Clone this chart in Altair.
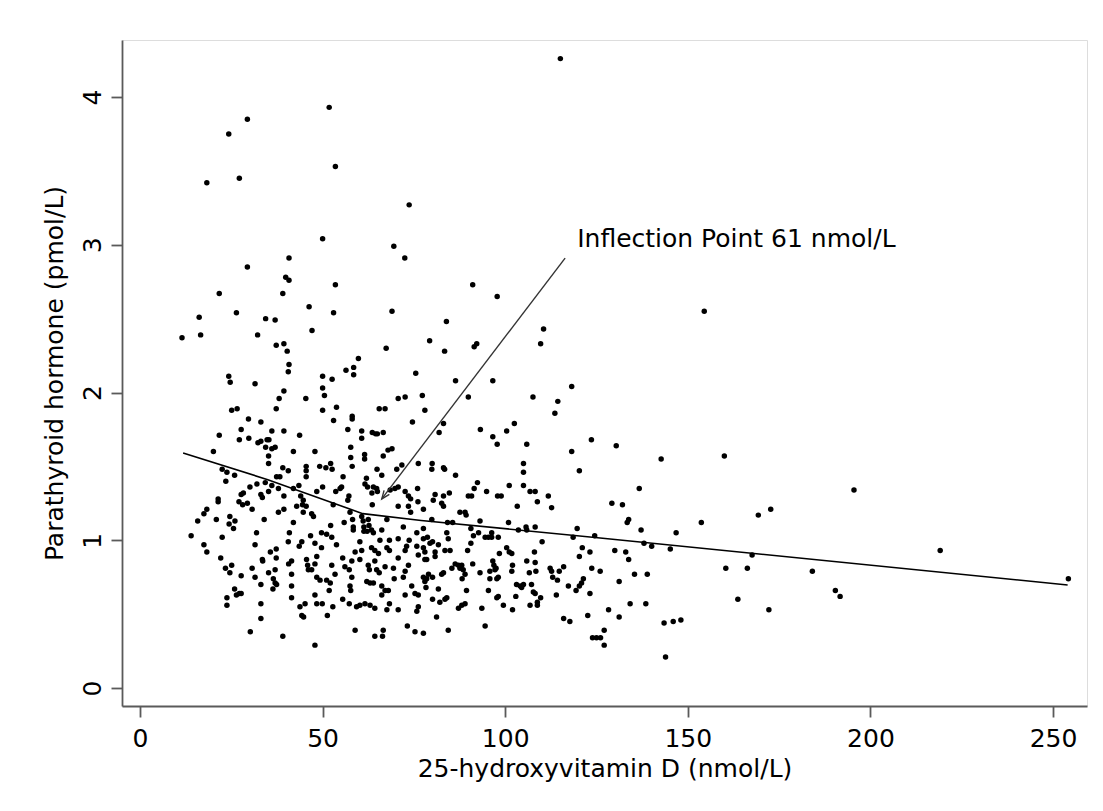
import altair as alt
import pandas as pd

# 25-hydroxyvitamin D (nmol/L) and parathyroid hormone (pmol/L)
vit_d = [
    51.8, 29.4, 24.3, 53.5, 18.3, 27.2, 50.0, 40.8, 29.4, 39.9, 40.8, 53.5, 21.7, 39.1,
    115.1, 73.7, 69.5, 72.5, 91.1, 97.8, 154.5,
    16.2, 26.4, 34.4, 37.0, 11.5, 16.6, 32.2, 37.3, 39.4, 40.3, 40.8, 40.6, 24.3, 24.7,
    31.5, 39.4, 38.1, 37.3, 25.1, 26.6, 29.7, 33.1, 27.7, 36.1, 39.4, 21.7, 27.2, 29.8,
    32.3, 33.1, 34.8, 35.3, 34.4, 36.1, 37.0, 20.1, 35.2, 35.2, 22.5, 23.8, 25.9, 39.1,
    40.6, 37.4, 38.3,
    46.3, 53.0, 69.0, 47.1, 67.4, 59.8, 56.4, 58.5, 58.5, 50.0, 52.6, 75.5, 50.0, 50.5,
    45.4, 70.7, 72.6, 50.0, 53.8, 65.5, 67.1, 53.0, 58.1, 58.1, 74.6, 56.9, 60.7, 60.7,
    63.6, 64.5, 65.0, 66.6, 43.7, 42.0, 47.9, 57.7, 57.7, 61.5, 61.5, 66.6, 67.9, 69.0,
    58.1, 45.5, 45.5, 45.5, 49.2, 50.9, 52.2, 52.6, 55.6, 62.0, 64.9, 66.2, 71.7, 70.3,
    76.2,
    83.9, 79.3, 83.4, 91.5, 92.2, 110.5, 109.7, 86.4, 96.6, 77.3, 89.9, 107.6, 118.2,
    114.4, 113.6, 78.0, 83.1, 81.9, 93.2, 96.6, 97.8, 100.4, 102.5, 105.9, 123.6, 118.2,
    120.3, 105.0, 105.0, 80.0, 79.9, 83.1, 83.4, 86.4,
    23.5, 30.1, 32.0, 34.3, 36.1, 37.9, 27.7, 28.3, 33.1, 33.5, 35.2, 21.4, 21.4, 39.4,
    27.1, 28.1, 29.4, 18.3, 17.5, 30.7, 37.9, 39.4, 15.8, 20.9, 24.6, 26.0, 24.4, 25.6,
    34.0, 31.9, 40.9, 14.0, 22.5, 31.5, 40.6, 17.5, 18.3, 35.7, 37.3, 22.1, 33.6, 33.5,
    37.3, 40.7, 23.4, 25.1, 24.6, 30.7, 37.0, 35.2, 27.7, 31.5, 36.5, 37.0, 37.4, 33.1,
    36.4, 25.9, 26.4, 27.2, 27.7, 23.8, 23.8, 33.1, 33.1, 30.2, 39.1,
    43.5, 50.0, 53.6, 54.8, 55.2, 48.4, 42.0, 44.0, 44.7, 57.2, 56.9, 61.6, 62.3, 63.9,
    64.8, 65.0, 63.5, 68.5, 69.8, 70.7, 72.6, 73.5, 74.1, 76.0, 42.9, 44.5, 45.5, 44.7,
    47.0, 47.5, 52.9, 63.6, 57.5, 70.7, 73.5, 74.1, 76.1, 42.0, 52.2, 55.9, 58.2, 58.4,
    58.4, 60.7, 61.1, 61.3, 61.3, 62.5, 62.7, 62.2, 63.4, 63.9, 66.2, 67.6, 72.1, 75.8,
    46.7, 49.7, 51.1, 52.5, 44.3, 43.6, 47.9, 49.7, 53.8, 60.2, 60.7, 58.9, 63.4, 65.3,
    64.3, 65.7, 68.3, 67.6, 68.3, 70.7, 73.7, 72.6, 73.0, 75.8, 41.5, 45.6, 45.9, 46.1,
    48.4, 47.9, 52.5, 55.5, 56.1, 57.3, 58.0, 60.2, 62.5, 62.8, 64.3, 64.8, 65.5, 67.1,
    69.4, 70.7, 72.6, 73.5, 76.2, 41.5, 47.0, 48.4, 49.3, 51.1, 52.1, 53.4, 58.0, 62.1,
    63.0, 63.9, 66.2, 67.1, 68.0, 69.6, 72.1, 74.4, 75.3, 76.2, 41.5, 41.5, 47.9, 51.8,
    57.5, 57.7, 66.2, 72.6, 55.5, 48.4, 49.9, 43.8, 45.2, 52.8, 57.3, 59.3, 60.2, 61.6,
    63.0, 64.3, 67.6, 68.3, 70.7, 75.8, 76.2, 44.3, 44.8, 51.3, 58.9, 64.3, 66.6, 66.4,
    73.2, 75.3, 47.9,
    92.4, 91.5, 101.1, 105.0, 106.8, 108.2, 111.8, 80.8, 80.3, 83.1, 84.7, 89.9, 90.8,
    94.9, 97.9, 98.9, 108.8, 82.6, 83.1, 103.3, 112.7, 77.6, 87.6, 89.0, 89.3, 79.9, 84.2,
    85.6, 93.1, 100.9, 77.6, 90.6, 103.6, 105.7, 105.9, 108.2, 119.7, 124.5, 118.6, 77.6,
    78.7, 79.4, 80.1, 81.7, 84.0, 84.4, 92.7, 91.3, 94.5, 95.4, 96.3, 96.3, 98.1, 90.6,
    110.1, 77.6, 78.0, 80.8, 80.8, 83.5, 84.9, 89.7, 98.4, 100.4, 101.1, 101.8, 108.0,
    105.9, 108.2, 121.1, 120.3, 123.2, 78.0, 78.5, 86.3, 87.2, 88.1, 87.6, 88.5, 89.0,
    85.4, 91.1, 96.6, 96.9, 97.5, 97.2, 95.8, 93.1, 101.8, 102.0, 106.6, 108.4, 112.3,
    112.7, 114.8, 116.0, 123.7, 77.6, 78.5, 79.0, 80.1, 78.0, 82.6, 83.1, 88.2, 95.8,
    97.7, 98.1, 113.0, 114.3, 121.4, 120.9, 120.3, 78.3, 81.7, 89.4, 95.4, 103.1, 104.1,
    105.0, 104.5, 107.2, 107.7, 108.2, 117.3, 119.4, 123.2, 80.1, 84.0, 83.5, 82.1, 97.7,
    98.1, 102.9, 109.7, 114.0, 99.5, 106.8, 108.8, 108.8, 87.2, 88.1, 89.0, 93.6, 102.0,
    81.2, 94.5, 116.0, 117.7, 122.6, 77.6, 84.4, 123.9, 125.0,
    130.4, 142.7, 160.0, 136.7, 129.2, 132.1, 133.4, 133.8, 137.2, 146.8, 153.7, 169.3,
    172.7, 195.5, 219.1, 254.2, 138.0, 140.1, 145.2, 167.6, 130.0, 133.0, 133.8, 126.0,
    135.4, 138.9, 131.2, 160.4, 166.3, 184.1, 190.4, 191.7, 134.2, 138.5, 128.3, 131.2,
    163.7, 172.2, 143.5, 146.0, 148.1, 127.1, 126.1, 127.1, 143.9,
]
pth = [
    3.93, 3.85, 3.75, 3.53, 3.42, 3.45, 3.04, 2.91, 2.85, 2.78, 2.76, 2.73, 2.67, 2.67,
    4.26, 3.27, 2.99, 2.91, 2.73, 2.65, 2.55,
    2.51, 2.54, 2.50, 2.49, 2.37, 2.39, 2.39, 2.32, 2.33, 2.28, 2.19, 2.14, 2.11, 2.07,
    2.06, 2.01, 1.96, 1.89, 1.88, 1.89, 1.82, 1.80, 1.75, 1.74, 1.74, 1.71, 1.68, 1.69,
    1.66, 1.67, 1.68, 1.68, 1.63, 1.62, 1.63, 1.60, 1.57, 1.52, 1.48, 1.46, 1.44, 1.49,
    1.47, 1.43, 1.43,
    2.58, 2.54, 2.55, 2.42, 2.30, 2.23, 2.15, 2.17, 2.12, 2.11, 2.09, 2.13, 2.03, 1.98,
    1.96, 1.96, 1.97, 1.88, 1.90, 1.89, 1.89, 1.81, 1.84, 1.82, 1.80, 1.75, 1.74, 1.69,
    1.73, 1.72, 1.72, 1.73, 1.71, 1.60, 1.60, 1.63, 1.56, 1.58, 1.55, 1.57, 1.61, 1.62,
    1.50, 1.50, 1.47, 1.43, 1.50, 1.49, 1.52, 1.48, 1.43, 1.42, 1.48, 1.44, 1.51, 1.48,
    1.52,
    2.48, 2.35, 2.28, 2.31, 2.33, 2.43, 2.33, 2.08, 2.08, 1.98, 1.97, 1.97, 2.04,
    1.94, 1.86, 1.88, 1.79, 1.73, 1.75, 1.70, 1.65, 1.74, 1.79, 1.65, 1.68, 1.60,
    1.47, 1.52, 1.46, 1.52, 1.48, 1.49, 1.48, 1.44,
    1.40, 1.36, 1.38, 1.39, 1.37, 1.35, 1.31, 1.32, 1.31, 1.29, 1.33, 1.28, 1.26, 1.30,
    1.26, 1.24, 1.25, 1.21, 1.18, 1.21, 1.19, 1.21, 1.13, 1.14, 1.16, 1.13, 1.11, 1.08,
    1.14, 1.05, 1.05, 1.03, 1.02, 0.97, 0.99, 0.97, 0.92, 0.92, 0.94, 0.88, 0.86, 0.87,
    0.88, 0.84, 0.81, 0.83, 0.78, 0.81, 0.80, 0.78, 0.76, 0.75, 0.74, 0.71, 0.70, 0.70,
    0.67, 0.67, 0.63, 0.64, 0.64, 0.61, 0.56, 0.57, 0.47, 0.38, 0.35,
    1.37, 1.36, 1.33, 1.35, 1.36, 1.33, 1.35, 1.30, 1.27, 1.30, 1.27, 1.38, 1.36, 1.36,
    1.35, 1.33, 1.32, 1.34, 1.35, 1.36, 1.33, 1.30, 1.28, 1.35, 1.23, 1.24, 1.23, 1.19,
    1.18, 1.16, 1.24, 1.24, 1.19, 1.23, 1.23, 1.19, 1.26, 1.12, 1.10, 1.12, 1.14, 1.09,
    1.07, 1.16, 1.13, 1.09, 1.06, 1.14, 1.10, 1.06, 1.07, 1.05, 1.07, 1.14, 1.09, 1.05,
    1.03, 1.05, 1.04, 1.02, 0.99, 0.96, 0.98, 0.95, 0.97, 0.99, 0.93, 0.92, 0.95, 0.91,
    0.93, 1.00, 1.00, 0.95, 0.93, 1.01, 1.00, 0.93, 0.96, 0.96, 0.86, 0.87, 0.83, 0.80,
    0.89, 0.84, 0.83, 0.88, 0.82, 0.80, 0.86, 0.87, 0.83, 0.80, 0.86, 0.80, 0.78, 0.82,
    0.81, 0.88, 0.79, 0.83, 0.90, 0.77, 0.80, 0.75, 0.73, 0.73, 0.71, 0.77, 0.75, 0.72,
    0.71, 0.71, 0.69, 0.66, 0.66, 0.74, 0.75, 0.69, 0.64, 0.63, 0.69, 0.61, 0.63, 0.66,
    0.69, 0.66, 0.63, 0.63, 0.60, 0.57, 0.57, 0.55, 0.57, 0.55, 0.57, 0.55, 0.56, 0.57,
    0.56, 0.54, 0.53, 0.57, 0.53, 0.52, 0.55, 0.49, 0.48, 0.49, 0.39, 0.35, 0.39, 0.35,
    0.42, 0.38, 0.29,
    1.39, 1.35, 1.37, 1.37, 1.33, 1.33, 1.30, 1.31, 1.27, 1.30, 1.32, 1.30, 1.30,
    1.33, 1.30, 1.30, 1.26, 1.25, 1.23, 1.23, 1.22, 1.21, 1.19, 1.19, 1.17, 1.14, 1.12,
    1.12, 1.13, 1.12, 1.08, 1.08, 1.07, 1.09, 1.07, 1.09, 1.08, 1.03, 1.02, 1.01,
    1.02, 0.98, 0.99, 0.97, 1.05, 1.01, 1.05, 1.03, 1.02, 1.02, 1.05, 1.02, 1.02, 0.98,
    0.99, 0.95, 0.92, 0.92, 0.89, 0.93, 0.93, 0.93, 0.91, 0.95, 0.92, 0.91, 0.92,
    0.86, 0.85, 0.95, 0.89, 0.92, 0.87, 0.87, 0.84, 0.83, 0.83, 0.81, 0.80, 0.77,
    0.81, 0.84, 0.86, 0.83, 0.81, 0.80, 0.79, 0.78, 0.79, 0.83, 0.78, 0.79, 0.81,
    0.79, 0.79, 0.82, 0.81, 0.75, 0.74, 0.77, 0.75, 0.72, 0.77, 0.78, 0.74, 0.74,
    0.74, 0.75, 0.75, 0.73, 0.74, 0.71, 0.69, 0.68, 0.67, 0.66, 0.66, 0.70, 0.69,
    0.70, 0.68, 0.70, 0.65, 0.64, 0.69, 0.66, 0.64, 0.60, 0.61, 0.60, 0.58, 0.61,
    0.62, 0.62, 0.61, 0.63, 0.56, 0.56, 0.56, 0.58, 0.54, 0.56, 0.57, 0.54, 0.53,
    0.48, 0.42, 0.47, 0.45, 0.49, 0.37, 0.39, 0.34, 0.34,
    1.64, 1.55, 1.57, 1.35, 1.25, 1.24, 1.12, 1.14, 1.07, 1.05, 1.12, 1.17,
    1.21, 1.34, 0.93, 0.74, 0.98, 0.96, 0.94, 0.90, 0.93, 0.92, 0.87, 0.79,
    0.77, 0.77, 0.72, 0.81, 0.81, 0.79, 0.66, 0.62, 0.57, 0.57, 0.53, 0.48,
    0.60, 0.53, 0.44, 0.45, 0.46, 0.39, 0.34, 0.29, 0.21,
]

# fitted piecewise curve
fit_x = [11.8, 35.0, 61.0, 77.0, 126.0, 254.0]
fit_y = [1.59, 1.41, 1.18, 1.134, 1.015, 0.697]

# annotation pointer and label
ann_x = [66.2, 116.4]
ann_y = [1.28, 2.91]
label_text = ["Inflection Point 61 nmol/L"]
label_x = [119.7]
label_y = [2.985]

x_ticks = [0, 50, 100, 150, 200, 250]
y_ticks = [0, 1, 2, 3, 4]

n = min(len(vit_d), len(pth))
pts = pd.DataFrame({"x": vit_d[:n], "y": pth[:n]})
fit = pd.DataFrame({"x": fit_x, "y": fit_y})
ann = pd.DataFrame({"x": ann_x, "y": ann_y})
tip = pd.DataFrame({"x": ann_x[:1], "y": ann_y[:1]})
lab = pd.DataFrame({"x": label_x, "y": label_y, "t": label_text})

FONT = "DejaVu Sans"
xs = alt.Scale(domain=[-4.93, 259.3], nice=False, zero=False)
ys = alt.Scale(domain=[-0.122, 4.386], nice=False, zero=False)

xaxis = alt.Axis(
    values=x_ticks, format="d", title="25-hydroxyvitamin D (nmol/L)", grid=False,
    labelFont=FONT, labelFontSize=25, labelColor="#000",
    labelBaseline="alphabetic", labelPadding=29,
    titleFont=FONT, titleFontSize=25, titleFontWeight="normal", titleColor="#000",
    titleBaseline="alphabetic", titleY=70,
    tickSize=11, tickWidth=1.8, tickColor="#5a5a5a",
    domainColor="#5a5a5a", domainWidth=1.8,
)
yaxis = alt.Axis(
    values=y_ticks, format="d", title="Parathyroid hormone (pmol/L)", grid=False,
    labelFont=FONT, labelFontSize=25, labelColor="#000",
    labelAngle=270, labelAlign="center", labelBaseline="alphabetic", labelPadding=11,
    titleFont=FONT, titleFontSize=25, titleFontWeight="normal", titleColor="#000",
    titleBaseline="alphabetic", titleX=-60,
    tickSize=11, tickWidth=1.8, tickColor="#5a5a5a",
    domainColor="#5a5a5a", domainWidth=1.8,
)

points = alt.Chart(pts).mark_circle(size=30, color="#000", opacity=1).encode(
    x=alt.X("x:Q", scale=xs, axis=xaxis),
    y=alt.Y("y:Q", scale=ys, axis=yaxis),
)
fit_line = alt.Chart(fit).mark_line(color="#000", strokeWidth=1.6).encode(
    x=alt.X("x:Q", scale=xs), y=alt.Y("y:Q", scale=ys)
)
pointer = alt.Chart(ann).mark_line(color="#333", strokeWidth=1.4).encode(
    x=alt.X("x:Q", scale=xs), y=alt.Y("y:Q", scale=ys)
)
head = alt.Chart(tip).mark_point(
    shape="M -0.6 1.5 L 0 0 L 0.6 1.5", filled=False, color="#333",
    strokeWidth=1.4, size=120, angle=217, opacity=1,
).encode(x=alt.X("x:Q", scale=xs), y=alt.Y("y:Q", scale=ys))
label = alt.Chart(lab).mark_text(
    font=FONT, fontSize=25, align="left", baseline="alphabetic", color="#000"
).encode(x=alt.X("x:Q", scale=xs), y=alt.Y("y:Q", scale=ys), text="t:N")

chart = alt.layer(points, fit_line, pointer, head, label).properties(
    width=965, height=666,
    autosize=alt.AutoSizeParams(type="none"),
    padding={"left": 114, "top": 32, "right": 8, "bottom": 97},
).configure_view(stroke=None).configure(background="white")

chart.save("out.html", embed_options={"renderer": "svg", "actions": False})
